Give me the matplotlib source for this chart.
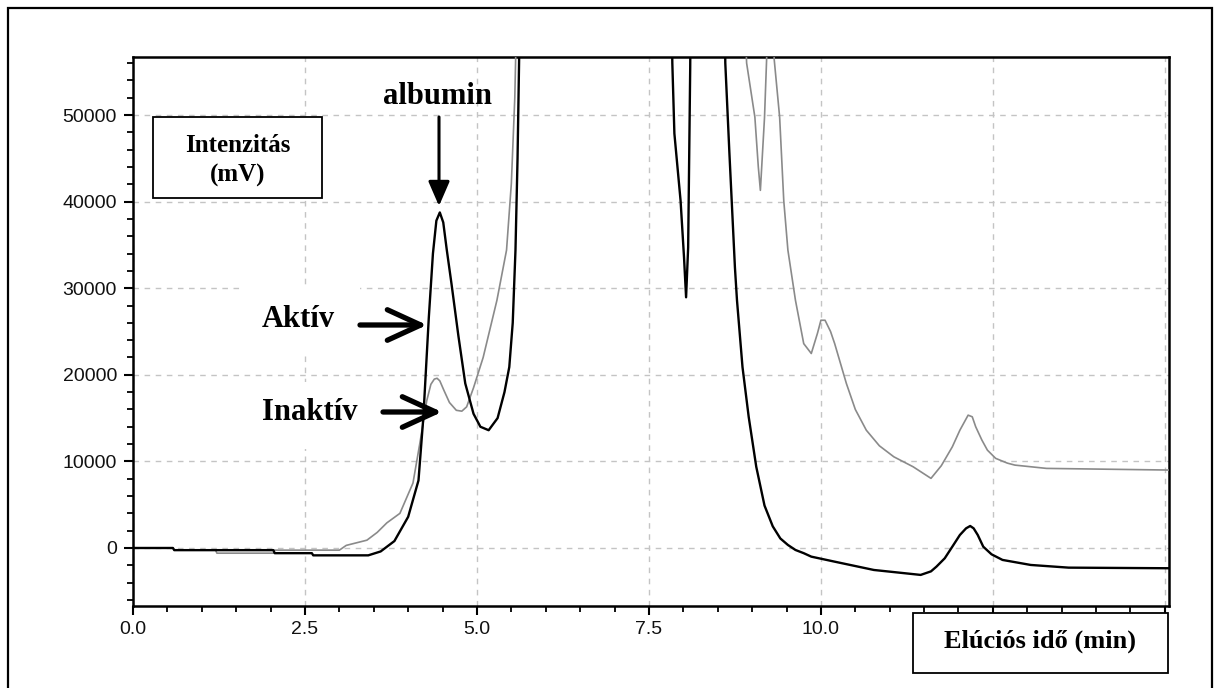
import matplotlib
matplotlib.use("Agg")
import matplotlib.pyplot as plt
from matplotlib.patches import Rectangle, FancyArrowPatch, ArrowStyle
from matplotlib.ticker import MultipleLocator

# ---------------- data ----------------
aktiv_t = [0, 0.58, 0.6, 2.04, 2.06, 2.6, 2.62, 3.42, 3.6, 3.8, 4.0, 4.15, 4.22, 4.3,
           4.36, 4.41, 4.46, 4.51, 4.56, 4.63, 4.73, 4.83, 4.95, 5.05, 5.17, 5.3, 5.4, 5.47, 5.52,
           5.56, 5.59, 5.62, 5.65, 7.8, 7.84, 7.87, 7.96, 8.01, 8.04, 8.07, 8.1, 8.12,
           8.58, 8.61, 8.67, 8.75, 8.78, 8.86, 8.95, 9.06, 9.18, 9.3, 9.41, 9.52, 9.63, 9.75,
           9.86, 10.2, 10.77, 11.45, 11.6, 11.68, 11.8, 11.91, 12.02, 12.11, 12.17, 12.22,
           12.28, 12.36, 12.48, 12.64, 13.05, 13.6, 15.06]
aktiv_mv = [0, 0, -250, -250, -600, -600, -850, -850, -400, 800, 3600, 7800, 15000, 26600,
            34000, 37800, 38750, 37600, 34500, 30500, 24500, 19000, 15500, 14000, 13600, 15000,
            18000, 20900, 26000,
            34400, 45000, 60000, 80000, 80000, 56000, 47860, 40100, 33560, 28950, 34700, 55500, 80000,
            80000, 56000, 45560, 32400, 28600, 20900, 15150, 9380, 4900, 2500, 1100, 350, -230, -600,
            -1000, -1580, -2540, -3110, -2700, -2150, -1190, 150, 1500, 2270, 2540, 2270,
            1500, 150, -730, -1380, -1960, -2270, -2340]

inaktiv_t = [0, 0.58, 0.6, 1.2, 1.22, 2.04, 2.06, 3.0, 3.1, 3.4, 3.55, 3.69, 3.88, 4.07,
             4.17, 4.27, 4.33, 4.38, 4.42, 4.46, 4.52, 4.6, 4.7, 4.78, 4.85, 4.95, 5.09, 5.29, 5.43,
             5.5, 5.55, 5.6, 8.85, 8.92, 9.04, 9.09, 9.12, 9.18, 9.21, 9.25, 9.3, 9.32,
             9.4, 9.46, 9.52, 9.63, 9.75, 9.86, 9.95, 10.0, 10.06, 10.14, 10.2, 10.37, 10.5,
             10.66, 10.85, 11.06, 11.34, 11.6, 11.75, 11.91, 12.02, 12.14, 12.2, 12.25, 12.34,
             12.42, 12.54, 12.71, 12.82, 13.28, 15.06]
inaktiv_mv = [0, 0, -250, -250, -600, -600, -250, -250, 300, 900, 1800, 2900, 4000, 7500,
              12100, 17000, 18900, 19500, 19600, 19300, 18200, 16800, 15900, 15800, 16300, 18500,
              22000, 28600, 34400,
              42100, 52000, 70000, 70000, 56000, 49750, 44000, 41300, 49700, 56300, 70000, 70000, 56500,
              49750, 40100, 34400, 28600, 23600, 22460, 24800, 26300, 26300, 25000, 23600, 19000, 16000,
              13600, 11800, 10530, 9380, 8040, 9500, 11680, 13600, 15340, 15150, 14000, 12460,
              11300, 10350, 9800, 9570, 9190, 9000]

x_ticks = [0, 2.5, 5.0, 7.5, 10.0, 12.5, 15.0]
x_ticklabels = ["0.0", "2.5", "5.0", "7.5", "10.0", "", ""]
y_ticks = [0, 10000, 20000, 30000, 40000, 50000]
y_ticklabels = ["0", "10000", "20000", "30000", "40000", "50000"]

ylabel_lines = ["Intenzitás", "(mV)"]
xlabel_text = "Elúciós idő (min)"
label_aktiv = "Aktív"
label_inaktiv = "Inaktív"
label_albumin = "albumin"

# ---------------- figure ----------------
W, H = 1214, 688
fig = plt.figure(figsize=(W / 100, H / 100), dpi=100)
fig.patch.set_facecolor("white")


def fx(x):
    return x / W


def fy(y):
    return 1 - y / H


ax_l, ax_r, ax_t, ax_b = 133, 1169, 57, 606
ax = fig.add_axes([fx(ax_l), fy(ax_b), (ax_r - ax_l) / W, (ax_b - ax_t) / H])
ax.set_facecolor("white")

ax.plot(inaktiv_t, inaktiv_mv, color="#8a8a8a", lw=1.2, zorder=3, solid_joinstyle="round")
ax.plot(aktiv_t, aktiv_mv, color="black", lw=1.7, zorder=4, solid_joinstyle="round")

ax.set_xlim(0, 15.06)
ax.set_ylim(-6700, 56700)

ax.set_xticks(x_ticks)
ax.set_xticklabels(x_ticklabels)
ax.set_yticks(y_ticks)
ax.set_yticklabels(y_ticklabels)
ax.xaxis.set_minor_locator(MultipleLocator(0.5))
ax.yaxis.set_minor_locator(MultipleLocator(2000))

ax.grid(True, which="major", color="#c4c4c4", linestyle=(0, (4, 4)), lw=1.0, zorder=0)
ax.set_axisbelow(True)

for side in ["left", "bottom", "top", "right"]:
    ax.spines[side].set_color("black")
    ax.spines[side].set_linewidth(1.8)

ax.tick_params(axis="both", which="major", direction="out", length=6.5, width=1.5,
               color="black", labelsize=14, labelcolor="#111111")
ax.tick_params(axis="both", which="minor", direction="out", length=4, width=1.3, color="black")
ax.tick_params(axis="y", which="major", pad=5)
ax.tick_params(axis="x", which="major", pad=4)
for lab in ax.get_xticklabels() + ax.get_yticklabels():
    lab.set_fontfamily("Liberation Sans")

serif = "Liberation Serif"

# outer frame
fig.patches.append(Rectangle((fx(8), fy(692)), (1212 - 8) / W, (692 - 8) / H,
                             transform=fig.transFigure, fill=False, edgecolor="black",
                             lw=1.6, zorder=5))

# Intenzitás box
fig.patches.append(Rectangle((fx(153), fy(198)), (322 - 153) / W, (198 - 117) / H,
                             transform=fig.transFigure, facecolor="white", edgecolor="black",
                             lw=1.3, zorder=5))
fig.text(fx(237.5), fy(145), ylabel_lines[0], fontfamily=serif, fontweight="bold",
         fontsize=18, ha="center", va="center", zorder=6)
fig.text(fx(237.5), fy(175), ylabel_lines[1], fontfamily=serif, fontweight="bold",
         fontsize=18, ha="center", va="center", zorder=6)

# Elúciós idő box
fig.patches.append(Rectangle((fx(913), fy(673)), (1168 - 913) / W, (673 - 613) / H,
                             transform=fig.transFigure, facecolor="white", edgecolor="black",
                             lw=1.3, zorder=5))
fig.text(fx(1040), fy(641), xlabel_text, fontfamily=serif, fontweight="bold",
         fontsize=19, ha="center", va="center", zorder=6)

# Aktív / Inaktív white boxes and labels
fig.patches.append(Rectangle((fx(242), fy(355)), (360 - 242) / W, (355 - 287) / H,
                             transform=fig.transFigure, facecolor="white", edgecolor="none",
                             zorder=5))
fig.patches.append(Rectangle((fx(242), fy(449)), (383 - 242) / W, (449 - 382) / H,
                             transform=fig.transFigure, facecolor="white", edgecolor="none",
                             zorder=5))
fig.text(fx(298), fy(319), label_aktiv, fontfamily=serif, fontweight="bold",
         fontsize=22, ha="center", va="center", zorder=6)
fig.text(fx(310), fy(413), label_inaktiv, fontfamily=serif, fontweight="bold",
         fontsize=22, ha="center", va="center", zorder=6)

open_head = ArrowStyle("->", head_length=24, head_width=11)
fig.patches.append(FancyArrowPatch((fx(360), fy(325)), (fx(427), fy(325)),
                                   transform=fig.transFigure, arrowstyle=open_head,
                                   mutation_scale=1, lw=3.8, color="black",
                                   shrinkA=0, shrinkB=0, zorder=7))
fig.patches.append(FancyArrowPatch((fx(383), fy(412)), (fx(442), fy(412)),
                                   transform=fig.transFigure, arrowstyle=open_head,
                                   mutation_scale=1, lw=3.8, color="black",
                                   shrinkA=0, shrinkB=0, zorder=7))

# albumin label and arrow
fig.text(fx(438), fy(97), label_albumin, fontfamily=serif, fontweight="bold",
         fontsize=22, ha="center", va="center", zorder=6)
fig.patches.append(FancyArrowPatch((fx(439), fy(117)), (fx(439), fy(206)),
                                   transform=fig.transFigure,
                                   arrowstyle=ArrowStyle("-|>", head_length=15, head_width=6.5),
                                   mutation_scale=1, lw=2.2, color="black",
                                   shrinkA=0, shrinkB=0, zorder=7))

fig.savefig("out.png", dpi=100, facecolor="white")
